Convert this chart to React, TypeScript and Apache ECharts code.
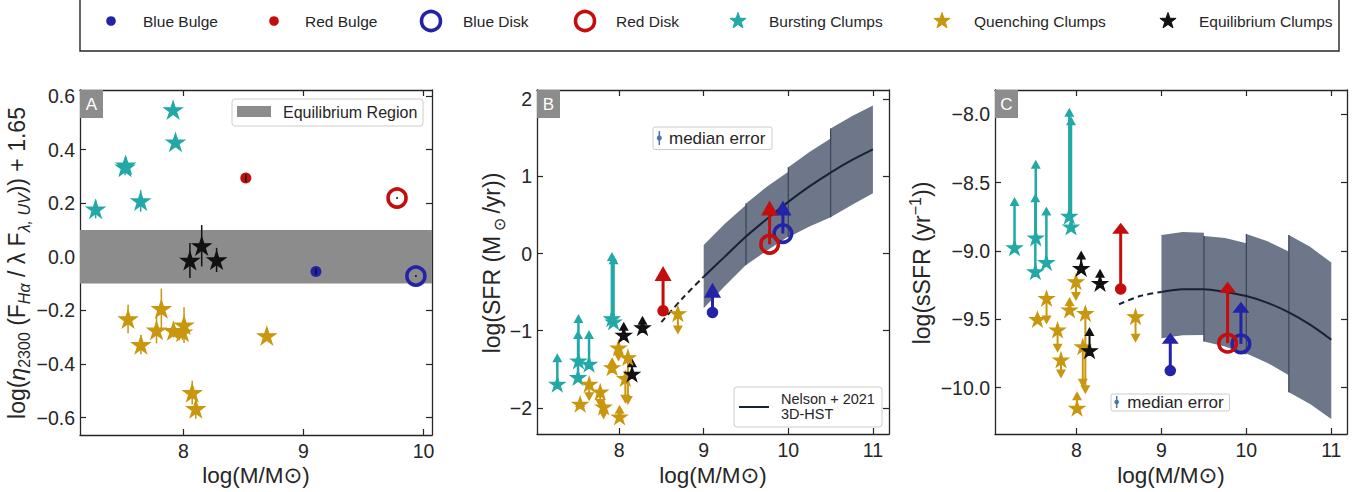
import React, { useEffect, useRef } from "react";
import * as echarts from "echarts";

// ---------------- data ----------------
const massTicksA = [8, 9, 10];
const massTicksBC = [8, 9, 10, 11];
const etaTicks = [-0.6, -0.4, -0.2, 0, 0.2, 0.4, 0.6];
const sfrTicks = [-2, -1, 0, 1, 2];
const ssfrTicks = [-10, -9.5, -9, -8.5, -8];

const massRangeA = [7.14, 10.07];
const etaRange = [-0.665, 0.622];
const massRangeB = [7.03, 11.19];
const sfrRange = [-2.34, 2.12];
const massRangeC = [7.04, 11.185];
const ssfrRange = [-10.34, -7.822];

const equilibriumRegion = [-0.1, 0.1];

// Bursting clumps
const burstMass = [7.27, 7.515, 7.52, 7.645, 7.915, 7.935];
const burstEta = [0.178, 0.334, 0.342, 0.208, 0.548, 0.428];
const burstEtaErr = [0.035, 0.03, 0.03, 0.04, 0.015, 0.02];
const burstSfr = [-1.693, -1.606, -1.391, -1.434, -0.842, -0.886];
const burstSfrLim = [-1.35, -1.05, -0.842, -1.05, -0.04, -0.08];
const burstSsfr = [-8.976, -9.151, -8.903, -9.083, -8.744, -8.824];
const burstSsfrLim = [-8.639, -8.61, -8.366, -8.707, -7.985, -8.047];

// Quenching clumps
const quenchMass = [7.54, 7.647, 7.777, 7.817, 7.918, 7.993, 8.006, 8.074, 8.104, 8.695];
const quenchEta = [-0.232, -0.328, -0.274, -0.194, -0.276, -0.281, -0.255, -0.507, -0.567, -0.295];
const quenchEtaErr = [0.053, 0.036, 0.049, 0.075, 0.025, 0.03, 0.067, 0.044, 0.037, 0.015];
const quenchSfr = [-1.952, -1.693, -1.793, -1.987, -1.477, -1.223, -2.117, -1.619, -1.347, -0.777];
const quenchSfrLim = [-1.93, -1.857, -1.943, -2.095, -1.404, -1.343, -2.02, -1.89, -1.907, -0.993];
const quenchSsfr = [-9.5, -9.346, -9.578, -9.797, -9.43, -9.224, -10.15, -9.7, -9.456, -9.48];
const quenchSsfrLim = [-9.48, -9.505, -9.712, -9.9, -9.371, -9.334, -10.06, -9.968, -10.017, -9.639];

// Equilibrium clumps
const equilMass = [8.055, 8.153, 8.277];
const equilEta = [-0.014, 0.041, -0.012];
const equilEtaErr = [0.065, 0.077, 0.045];
const equilSfr = [-1.058, -1.563, -0.959];
const equilSfrLim = [-0.942, -1.417, -0.864];
const equilSsfr = [-9.127, -9.729, -9.236];
const equilSsfrLim = [-9.03, -9.59, -9.163];

// Bulges and disks: Blue Bulge, Red Bulge, Blue Disk, Red Disk
const compNames = ["Blue Bulge", "Red Bulge", "Blue Disk", "Red Disk"];
const compMass = [9.104, 8.52, 9.936, 9.779];
const compEta = [-0.055, 0.294, -0.072, 0.219];
const compEtaErr = [0.012, 0.015, 0.004, 0.004];
const compSfr = [-0.764, -0.743, 0.259, 0.12];
const compSfrLim = [-0.475, -0.259, 0.59, 0.59];
const compSsfr = [-9.876, -9.278, -9.68, -9.675];
const compSsfrLim = [-9.639, -8.834, -9.412, -9.266];

// Nelson + 2021 (3D-HST) relation
const nelsonMass = [8.5, 8.75, 9, 9.25, 9.5, 9.75, 10, 10.25, 10.5, 10.75, 11];
const nelsonSfr = [-0.89, -0.58, -0.3, -0.04, 0.22, 0.45, 0.67, 0.87, 1.05, 1.21, 1.35];
const nelsonSsfr = [-9.39, -9.33, -9.3, -9.28, -9.28, -9.3, -9.33, -9.38, -9.45, -9.54, -9.65];

// scatter band segments
const bandLeft = [9, 9.5, 10, 10.5];
const bandRight = [9.5, 10, 10.5, 11];
const sfrBandTopL = [0.11, 0.65, 1.12, 1.62];
const sfrBandTopM = [0.385, 0.87, 1.315, 1.78];
const sfrBandTopR = [0.63, 1.06, 1.49, 1.92];
const sfrBandBotL = [-0.71, -0.15, 0.21, 0.47];
const sfrBandBotM = [-0.42, 0.04, 0.35, 0.63];
const sfrBandBotR = [-0.15, 0.22, 0.47, 0.78];
const ssfrBandTopL = [-8.883, -8.89, -8.876, -8.883];
const ssfrBandTopM = [-8.862, -8.905, -8.93, -8.97];
const ssfrBandTopR = [-8.866, -8.944, -9.005, -9.085];
const ssfrBandBotL = [-9.639, -9.663, -9.75, -10.035];
const ssfrBandBotM = [-9.617, -9.7, -9.82, -10.12];
const ssfrBandBotR = [-9.615, -9.76, -9.91, -10.23];

const legendNames = ["Blue Bulge", "Red Bulge", "Blue Disk", "Red Disk", "Bursting Clumps", "Quenching Clumps", "Equilibrium Clumps"];

// ---------------- styles ----------------
const FONT = "'Liberation Sans', Arial, 'DejaVu Sans', sans-serif";
const TXT = "#262626";
const BLUE = "#2323a8";
const RED = "#c40d0d";
const CYAN = "#22a9a7";
const GOLD = "#c9970f";
const BLACK = "#111111";
const BAND = "#6e7689";
const BAND_EDGE = "#3c475b";
const NELSON = "#16223a";
const EQ_GRAY = "#8c8c8c";
const MED_BLUE = "#4c72b0";
const compColor = [BLUE, RED, BLUE, RED];
const compRing = [false, false, true, true];

const STAR = "path://M0,-10L2.245,-3.09L9.511,-3.09L3.633,1.18L5.878,8.09L0,3.82L-5.878,8.09L-3.633,1.18L-9.511,-3.09L-2.245,-3.09Z";

const fmtInt = (v: number) => (v < 0 ? "\u2212" + Math.abs(v) : String(v));
const fmt1 = (v: number) => (v < 0 ? "\u2212" : "") + Math.abs(v).toFixed(1);

const gridBoxes = [
  { left: 80, top: 90, width: 352, height: 345 },
  { left: 537, top: 90, width: 352, height: 344 },
  { left: 995, top: 90, width: 352, height: 344 },
];

function axisPair(g: number, range: number[], ticks: number[], fmt: any, isX: boolean) {
  const common: any = {
    type: "value",
    gridIndex: g,
    min: range[0],
    max: range[1],
    splitLine: { show: false },
    axisLine: { show: true, onZero: false, lineStyle: { color: TXT, width: 1.3 } },
    axisTick: { show: true, inside: true, length: 6, customValues: ticks, lineStyle: { color: TXT, width: 1.2 } },
  };
  return [
    {
      ...common,
      position: isX ? "bottom" : "left",
      axisLabel: {
        show: true,
        customValues: ticks,
        margin: isX ? 6 : 5,
        fontSize: 19.5,
        color: TXT,
        fontFamily: FONT,
        formatter: fmt,
      },
    },
    { ...common, position: isX ? "top" : "right", axisLabel: { show: false } },
  ];
}

function stars(g: number, xs: number[], ys: number[], color: string, size: number, z: number) {
  return {
    type: "scatter",
    xAxisIndex: 2 * g,
    yAxisIndex: 2 * g,
    data: xs.map((x, i) => [x, ys[i]]),
    symbol: STAR,
    symbolSize: size,
    symbolKeepAspect: true,
    itemStyle: { color, opacity: 1, borderColor: color, borderWidth: 1.2 },
    z,
    silent: true,
  };
}

function errBars(g: number, xs: number[], ys: number[], errs: number[], color: string, lw: number, z: number) {
  return {
    type: "custom",
    xAxisIndex: 2 * g,
    yAxisIndex: 2 * g,
    z,
    silent: true,
    data: xs.map((x, i) => [x, ys[i] - errs[i], ys[i] + errs[i]]),
    encode: { x: 0, y: [1, 2] },
    renderItem: (params: any, api: any) => {
      const x = api.value(0);
      const p0 = api.coord([x, api.value(1)]);
      const p1 = api.coord([x, api.value(2)]);
      return {
        type: "line",
        shape: { x1: p0[0], y1: p0[1], x2: p1[0], y2: p1[1] },
        style: { stroke: color, lineWidth: lw },
      };
    },
  };
}

function arrows(g: number, xs: number[], from: number[], to: number[], colors: any, lw: number, tw: number, th: number, z: number) {
  return {
    type: "custom",
    xAxisIndex: 2 * g,
    yAxisIndex: 2 * g,
    z,
    silent: true,
    data: xs.map((x, i) => [x, from[i], to[i]]),
    encode: { x: 0, y: [1, 2] },
    renderItem: (params: any, api: any) => {
      const color = Array.isArray(colors) ? colors[params.dataIndex] : colors;
      const x = api.value(0);
      const p0 = api.coord([x, api.value(1)]);
      const p1 = api.coord([x, api.value(2)]);
      const dir = p1[1] < p0[1] ? -1 : 1;
      const tip = [p1[0], p1[1] + (dir * th) / 2];
      const bl = [p1[0] - tw / 2, p1[1] - (dir * th) / 2];
      const br = [p1[0] + tw / 2, p1[1] - (dir * th) / 2];
      return {
        type: "group",
        children: [
          { type: "line", shape: { x1: p0[0], y1: p0[1], x2: p1[0], y2: p1[1] }, style: { stroke: color, lineWidth: lw } },
          { type: "polygon", shape: { points: [tip, bl, br] }, style: { fill: color } },
        ],
      };
    },
  };
}

function comps(g: number, ys: number[], dot: number, ring: number, z: number) {
  return {
    type: "scatter",
    xAxisIndex: 2 * g,
    yAxisIndex: 2 * g,
    z,
    silent: true,
    itemStyle: { opacity: 1 },
    data: compMass.map((m, i) => ({
      name: compNames[i],
      value: [m, ys[i]],
      symbol: "circle",
      symbolSize: compRing[i] ? ring : dot,
      itemStyle: compRing[i]
        ? { color: "rgba(0,0,0,0)", borderColor: compColor[i], borderWidth: 3.6, opacity: 1 }
        : { color: compColor[i], opacity: 1 },
    })),
  };
}

function band(g: number, tL: number[], tM: number[], tR: number[], bL: number[], bM: number[], bR: number[]) {
  return {
    type: "custom",
    xAxisIndex: 2 * g,
    yAxisIndex: 2 * g,
    z: 1,
    silent: true,
    data: bandLeft.map((l, i) => [l, bandRight[i], tL[i], tM[i], tR[i], bL[i], bM[i], bR[i]]),
    encode: { x: [0, 1], y: [2, 3, 4, 5, 6, 7] },
    renderItem: (params: any, api: any) => {
      const xl = api.value(0);
      const xr = api.value(1);
      const xm = (xl + xr) / 2;
      const pts = [
        api.coord([xl, api.value(2)]),
        api.coord([xm, api.value(3)]),
        api.coord([xr, api.value(4)]),
        api.coord([xr, api.value(7)]),
        api.coord([xm, api.value(6)]),
        api.coord([xl, api.value(5)]),
      ];
      const children: any[] = [{ type: "polygon", shape: { points: pts }, style: { fill: BAND } }];
      if (params.dataIndex > 0) {
        children.push({
          type: "line",
          shape: { x1: pts[0][0], y1: pts[0][1], x2: pts[5][0], y2: pts[5][1] },
          style: { stroke: BAND_EDGE, lineWidth: 1.3 },
        });
      }
      return { type: "group", children };
    },
  };
}

function nelsonLines(g: number, ys: number[], dashColor: string) {
  return [
    {
      type: "line",
      xAxisIndex: 2 * g,
      yAxisIndex: 2 * g,
      z: 2,
      silent: true,
      showSymbol: false,
      smooth: 0.3,
      data: nelsonMass.slice(2).map((m, i) => [m, ys[i + 2]]),
      lineStyle: { color: NELSON, width: 2 },
    },
    {
      type: "line",
      xAxisIndex: 2 * g,
      yAxisIndex: 2 * g,
      z: 2,
      silent: true,
      showSymbol: false,
      smooth: 0.3,
      data: nelsonMass.slice(0, 3).map((m, i) => [m, ys[i]]),
      lineStyle: { color: dashColor, width: 2, type: [6, 4] },
    },
  ];
}

function starPts(cx: number, cy: number, R: number) {
  const pts: number[][] = [];
  for (let k = 0; k < 10; k++) {
    const r = k % 2 === 0 ? R : R * 0.4;
    const a = -Math.PI / 2 + (k * Math.PI) / 5;
    pts.push([cx + r * Math.cos(a), cy + r * Math.sin(a)]);
  }
  return pts;
}

function txt(x: number, y: number, text: string, size: number, extra: any = {}) {
  return {
    type: "text",
    x,
    y,
    z: 100,
    silent: true,
    style: {
      text,
      fill: TXT,
      fontSize: size,
      fontFamily: FONT,
      align: "left",
      verticalAlign: "middle",
      textAlign: "left",
      textVerticalAlign: "middle",
      ...extra,
    },
  };
}

function panelLabel(x: number, y: number, letter: string) {
  return [
    { type: "rect", z: 90, silent: true, shape: { x, y, width: 23, height: 28 }, style: { fill: EQ_GRAY } },
    txt(x + 11.5, y + 14.5, letter, 17, { fill: "#ffffff", align: "center", textAlign: "center" }),
  ];
}

function buildOption() {
  const legendMarkX = [111, 274, 431, 585, 738, 942, 1168];
  const legendTextX = [143, 305, 463, 616, 769, 974, 1199];
  const LY = 21;
  const legendMarkers: any[] = [
    { type: "circle", shape: { cx: legendMarkX[0], cy: LY, r: 4.8 }, style: { fill: BLUE } },
    { type: "circle", shape: { cx: legendMarkX[1], cy: LY, r: 4.8 }, style: { fill: RED } },
    { type: "circle", shape: { cx: legendMarkX[2], cy: LY, r: 9.5 }, style: { fill: "none", stroke: BLUE, lineWidth: 3.6 } },
    { type: "circle", shape: { cx: legendMarkX[3], cy: LY, r: 9.5 }, style: { fill: "none", stroke: RED, lineWidth: 3.6 } },
    { type: "polygon", shape: { points: starPts(legendMarkX[4], LY, 8.5) }, style: { fill: CYAN, stroke: CYAN, lineWidth: 1 } },
    { type: "polygon", shape: { points: starPts(legendMarkX[5], LY, 8.5) }, style: { fill: GOLD, stroke: GOLD, lineWidth: 1 } },
    { type: "polygon", shape: { points: starPts(legendMarkX[6], LY, 8.5) }, style: { fill: BLACK, stroke: BLACK, lineWidth: 1 } },
  ].map((e) => ({ ...e, z: 100, silent: true }));

  const titleRich = {
    m: { fontSize: 23, lineHeight: 30, fontFamily: FONT, fill: TXT },
    mi: { fontSize: 23, lineHeight: 30, fontFamily: FONT, fontStyle: "italic", fill: TXT },
    s: { fontSize: 16, lineHeight: 16, fontFamily: FONT, verticalAlign: "bottom", fill: TXT },
    si: { fontSize: 16, lineHeight: 16, fontFamily: FONT, fontStyle: "italic", verticalAlign: "bottom", fill: TXT },
    p: { fontSize: 16, lineHeight: 16, fontFamily: FONT, verticalAlign: "top", fill: TXT },
  };
  const yTitle = (x: number, y: number, text: string) => ({
    type: "text",
    x,
    y,
    rotation: Math.PI / 2,
    z: 100,
    silent: true,
    style: { text, rich: titleRich, align: "center", verticalAlign: "middle", textAlign: "center", textVerticalAlign: "middle" },
  });

  const graphic: any[] = [
    { type: "rect", z: 99, silent: true, shape: { x: 80, y: -6, width: 1259, height: 57 }, style: { fill: "#ffffff", stroke: TXT, lineWidth: 1.4 } },
    ...legendMarkers,
    ...legendNames.map((n, i) => txt(legendTextX[i], LY, n, 15.5)),
    // axis titles
    txt(256, 475, "log(M/M\u2299)", 22.5, { align: "center", textAlign: "center" }),
    txt(713, 475, "log(M/M\u2299)", 22.5, { align: "center", textAlign: "center" }),
    txt(1171, 475, "log(M/M\u2299)", 22.5, { align: "center", textAlign: "center" }),
    yTitle(17, 263, "{m|log(}{mi|\u03b7}{s|2300}{m| (F}{si|H\u03b1}{m| / \u03bb F}{si|\u03bb, UV}{m|)) + 1.65}"),
    yTitle(492, 263, "{m|log(SFR (M}{s| \u2299 }{m|/yr))}"),
    yTitle(922, 263, "{m|log(sSFR (yr}{p|\u22121}{m|))}"),
    // panel labels
    ...panelLabel(80, 90, "A"),
    ...panelLabel(537, 90, "B"),
    ...panelLabel(995, 90, "C"),
    // panel A legend
    { type: "rect", z: 95, silent: true, shape: { x: 232, y: 99, width: 191, height: 27, r: 3 }, style: { fill: "rgba(255,255,255,0.85)", stroke: "#cccccc", lineWidth: 1 } },
    { type: "rect", z: 96, silent: true, shape: { x: 237, y: 106, width: 34, height: 11 }, style: { fill: EQ_GRAY } },
    txt(283, 112.5, "Equilibrium Region", 16),
    // panel B median error
    { type: "rect", z: 95, silent: true, shape: { x: 653, y: 127, width: 119, height: 22.5, r: 2 }, style: { fill: "rgba(255,255,255,0.85)", stroke: "#cccccc", lineWidth: 1 } },
    { type: "line", z: 96, silent: true, shape: { x1: 659.3, y1: 131, x2: 659.3, y2: 145 }, style: { stroke: MED_BLUE, lineWidth: 1.5 } },
    { type: "circle", z: 96, silent: true, shape: { cx: 659.3, cy: 138, r: 2.5 }, style: { fill: MED_BLUE } },
    txt(669, 138.5, "median error", 17),
    // panel C median error
    { type: "rect", z: 95, silent: true, shape: { x: 1111, y: 394, width: 118.5, height: 17, r: 2 }, style: { fill: "rgba(255,255,255,0.85)", stroke: "#cccccc", lineWidth: 1 } },
    { type: "line", z: 96, silent: true, shape: { x1: 1116.7, y1: 396, x2: 1116.7, y2: 408 }, style: { stroke: MED_BLUE, lineWidth: 1.5 } },
    { type: "circle", z: 96, silent: true, shape: { cx: 1116.7, cy: 402, r: 2.3 }, style: { fill: MED_BLUE } },
    txt(1127.3, 402.5, "median error", 17),
    // panel B Nelson legend
    { type: "rect", z: 95, silent: true, shape: { x: 734, y: 387, width: 148, height: 40, r: 3 }, style: { fill: "rgba(255,255,255,0.85)", stroke: "#cccccc", lineWidth: 1 } },
    { type: "line", z: 96, silent: true, shape: { x1: 739, y1: 407, x2: 769, y2: 407 }, style: { stroke: NELSON, lineWidth: 2 } },
    txt(781, 398.5, "Nelson + 2021", 14.5),
    txt(781, 413.5, "3D-HST", 14.5),
  ];

  const xAxis = [
    ...axisPair(0, massRangeA, massTicksA, fmtInt, true),
    ...axisPair(1, massRangeB, massTicksBC, fmtInt, true),
    ...axisPair(2, massRangeC, massTicksBC, fmtInt, true),
  ];
  const yAxis = [
    ...axisPair(0, etaRange, etaTicks, fmt1, false),
    ...axisPair(1, sfrRange, sfrTicks, fmtInt, false),
    ...axisPair(2, ssfrRange, ssfrTicks, fmt1, false),
  ];

  const eqBand = {
    type: "custom",
    xAxisIndex: 0,
    yAxisIndex: 0,
    z: 1,
    silent: true,
    data: [[equilibriumRegion[0], equilibriumRegion[1]]],
    encode: { y: [0, 1] },
    renderItem: (params: any, api: any) => {
      const cs = params.coordSys;
      const pLo = api.coord([massRangeA[0], api.value(0)]);
      const pHi = api.coord([massRangeA[0], api.value(1)]);
      return {
        type: "rect",
        shape: { x: cs.x, y: pHi[1], width: cs.width, height: pLo[1] - pHi[1] },
        style: { fill: EQ_GRAY },
      };
    },
  };

  const series: any[] = [
    // Panel A
    eqBand,
    errBars(0, burstMass, burstEta, burstEtaErr, CYAN, 1.5, 3),
    errBars(0, quenchMass, quenchEta, quenchEtaErr, GOLD, 1.5, 3),
    errBars(0, equilMass, equilEta, equilEtaErr, BLACK, 1.5, 3),
    stars(0, burstMass, burstEta, CYAN, 18, 4),
    stars(0, quenchMass, quenchEta, GOLD, 18, 4),
    stars(0, equilMass, equilEta, BLACK, 18, 4),
    comps(0, compEta, 11, 18, 5),
    errBars(0, compMass, compEta, compEtaErr, BLACK, 1.5, 6),
    // Panel B
    band(1, sfrBandTopL, sfrBandTopM, sfrBandTopR, sfrBandBotL, sfrBandBotM, sfrBandBotR),
    ...nelsonLines(1, nelsonSfr, "#222222"),
    arrows(1, burstMass, burstSfr, burstSfrLim, CYAN, 2.5, 10, 9, 3),
    arrows(1, quenchMass, quenchSfr, quenchSfrLim, GOLD, 2, 10, 9, 3),
    arrows(1, equilMass, equilSfr, equilSfrLim, BLACK, 2, 10, 9, 3),
    stars(1, burstMass, burstSfr, CYAN, 15, 4),
    stars(1, quenchMass, quenchSfr, GOLD, 15, 4),
    stars(1, equilMass, equilSfr, BLACK, 15, 4),
    arrows(1, compMass, compSfr, compSfrLim, compColor, 3, 17, 15, 5),
    comps(1, compSfr, 11.5, 17.5, 6),
    // Panel C
    band(2, ssfrBandTopL, ssfrBandTopM, ssfrBandTopR, ssfrBandBotL, ssfrBandBotM, ssfrBandBotR),
    ...nelsonLines(2, nelsonSsfr, NELSON),
    arrows(2, burstMass, burstSsfr, burstSsfrLim, CYAN, 2.5, 10, 9, 3),
    arrows(2, quenchMass, quenchSsfr, quenchSsfrLim, GOLD, 2, 10, 9, 3),
    arrows(2, equilMass, equilSsfr, equilSsfrLim, BLACK, 2, 10, 9, 3),
    stars(2, burstMass, burstSsfr, CYAN, 15, 4),
    stars(2, quenchMass, quenchSsfr, GOLD, 15, 4),
    stars(2, equilMass, equilSsfr, BLACK, 15, 4),
    arrows(2, compMass, compSsfr, compSsfrLim, compColor, 3, 17, 11, 5),
    comps(2, compSsfr, 11.5, 17.5, 6),
  ];

  return {
    animation: false,
    backgroundColor: "#ffffff",
    textStyle: { fontFamily: FONT },
    grid: gridBoxes.map((b) => ({ ...b, show: false, containLabel: false, outerBoundsMode: "none" })),
    xAxis,
    yAxis,
    series,
    graphic,
  };
}

export default function App() {
  const ref = useRef<HTMLDivElement>(null);
  useEffect(() => {
    document.body.style.margin = "0";
    document.body.style.overflow = "hidden";
    const chart = echarts.init(ref.current as HTMLDivElement, null, { renderer: "svg" });
    chart.setOption(buildOption() as any);
    return () => chart.dispose();
  }, []);
  return <div ref={ref} style={{ width: 1363, height: 492, background: "#ffffff" }} />;
}
